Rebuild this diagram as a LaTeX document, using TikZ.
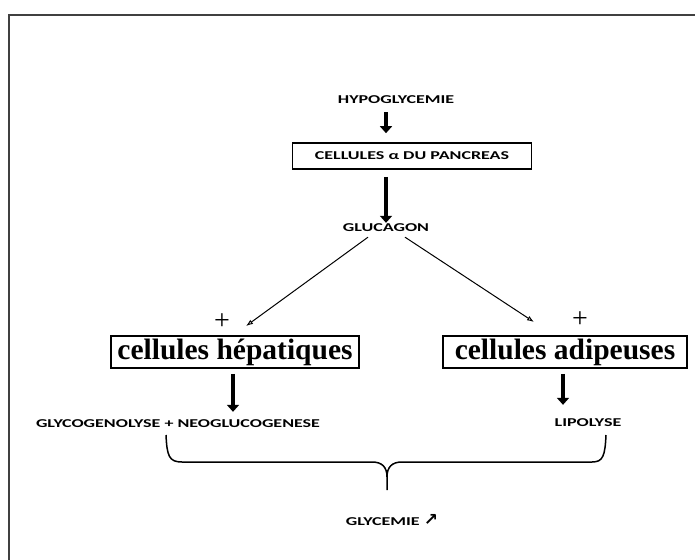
\documentclass[tikz,border=0pt]{standalone}
\usepackage{fontspec}
\setmainfont{Liberation Serif}
\newfontfamily\lblfont[FakeStretch=1.5]{Carlito}
\newfontfamily\symfont{DejaVu Sans}
\usetikzlibrary{positioning, arrows.meta}

\begin{document}
\begin{tikzpicture}[x=1pt,y=-1pt,
    lbl/.style={font=\lblfont\bfseries\fontsize{12}{14}\selectfont, inner sep=1pt},
    cellbox/.style={draw, line width=1.6pt, inner sep=2.5pt, minimum height=32pt,
                    font=\bfseries\fontsize{29.5}{32}\selectfont},
    bigarrow/.style={line width=4pt, -{Triangle[width=12pt,length=7pt]}},
    thinarrow/.style={line width=1pt, -{Latex[open,length=7pt,width=5pt]}},
    plus/.style={font=\fontsize{28}{30}\selectfont, inner sep=0pt}]
  \useasboundingbox (0,0) rectangle (695,559);
  \draw[line width=2pt, black!75] (9,560) |- (696,15);

  % top of the chain
  \node[lbl] (hypo) at (396,100) {HYPOGLYCEMIE};
  \node[lbl, draw, line width=1.6pt, minimum width=239pt, minimum height=26pt] (pancreas)
       at (412,156) {CELLULES α DU PANCREAS};
  \node[lbl] (glucagon) at (386,228) {GLUCAGON};
  \draw[bigarrow] ([yshift=-7pt]hypo.south -| glucagon) -- ([yshift=9pt]pancreas.north -| glucagon);
  \draw[bigarrow] ([yshift=-7pt]pancreas.south -| glucagon) -- (glucagon.north);

  % target cells
  \node[plus] (plusL) at (222,322) {+};
  \node[plus] (plusR) at (580,320) {+};
  \node[cellbox, minimum width=248pt] (hepat) at (235,352) {cellules hépatiques};
  \node[cellbox, minimum width=244pt] (adip) at (565,352) {cellules adipeuses};
  \coordinate (tipL) at (246,326);
  \coordinate (tipR) at (534,322);
  \draw[thinarrow] ([xshift=-18pt,yshift=-4pt]glucagon.south) -- (tipL);
  \draw[thinarrow] ([xshift=19pt,yshift=-4pt]glucagon.south) -- (tipR);

  % effects
  \node[lbl] (glyco) at (178,424) {GLYCOGENOLYSE + NEOGLUCOGENESE};
  \node[lbl] (lipo) at (588,423) {LIPOLYSE};
  \draw[bigarrow] ([yshift=-5pt]hepat.south -| 233,0) -- ([yshift=7pt]glyco.north -| 233,0);
  \draw[bigarrow] ([yshift=-5pt]adip.south -| 563,0) -- ([yshift=13pt]lipo.north -| 563,0);

  % result
  \coordinate (bl) at (166,435);
  \coordinate (br) at (606,435);
  \coordinate (btip) at (387,490);
  \draw[line width=1.5pt, line join=round]
    (bl) .. controls (167,456) and (169,462) .. (182,462) -- (372,462)
         .. controls (382,462) and (387,467) .. (387,477) -- (btip)
    (387,477) .. controls (387,467) and (392,462) .. (402,462) -- (592,462)
         .. controls (603,462) and (605,456) .. (br);
  \node[lbl] (glycemie) at (392,520) {GLYCEMIE {\symfont\bfseries\fontsize{17}{18}\selectfont ↗}};
\end{tikzpicture}
\end{document}
